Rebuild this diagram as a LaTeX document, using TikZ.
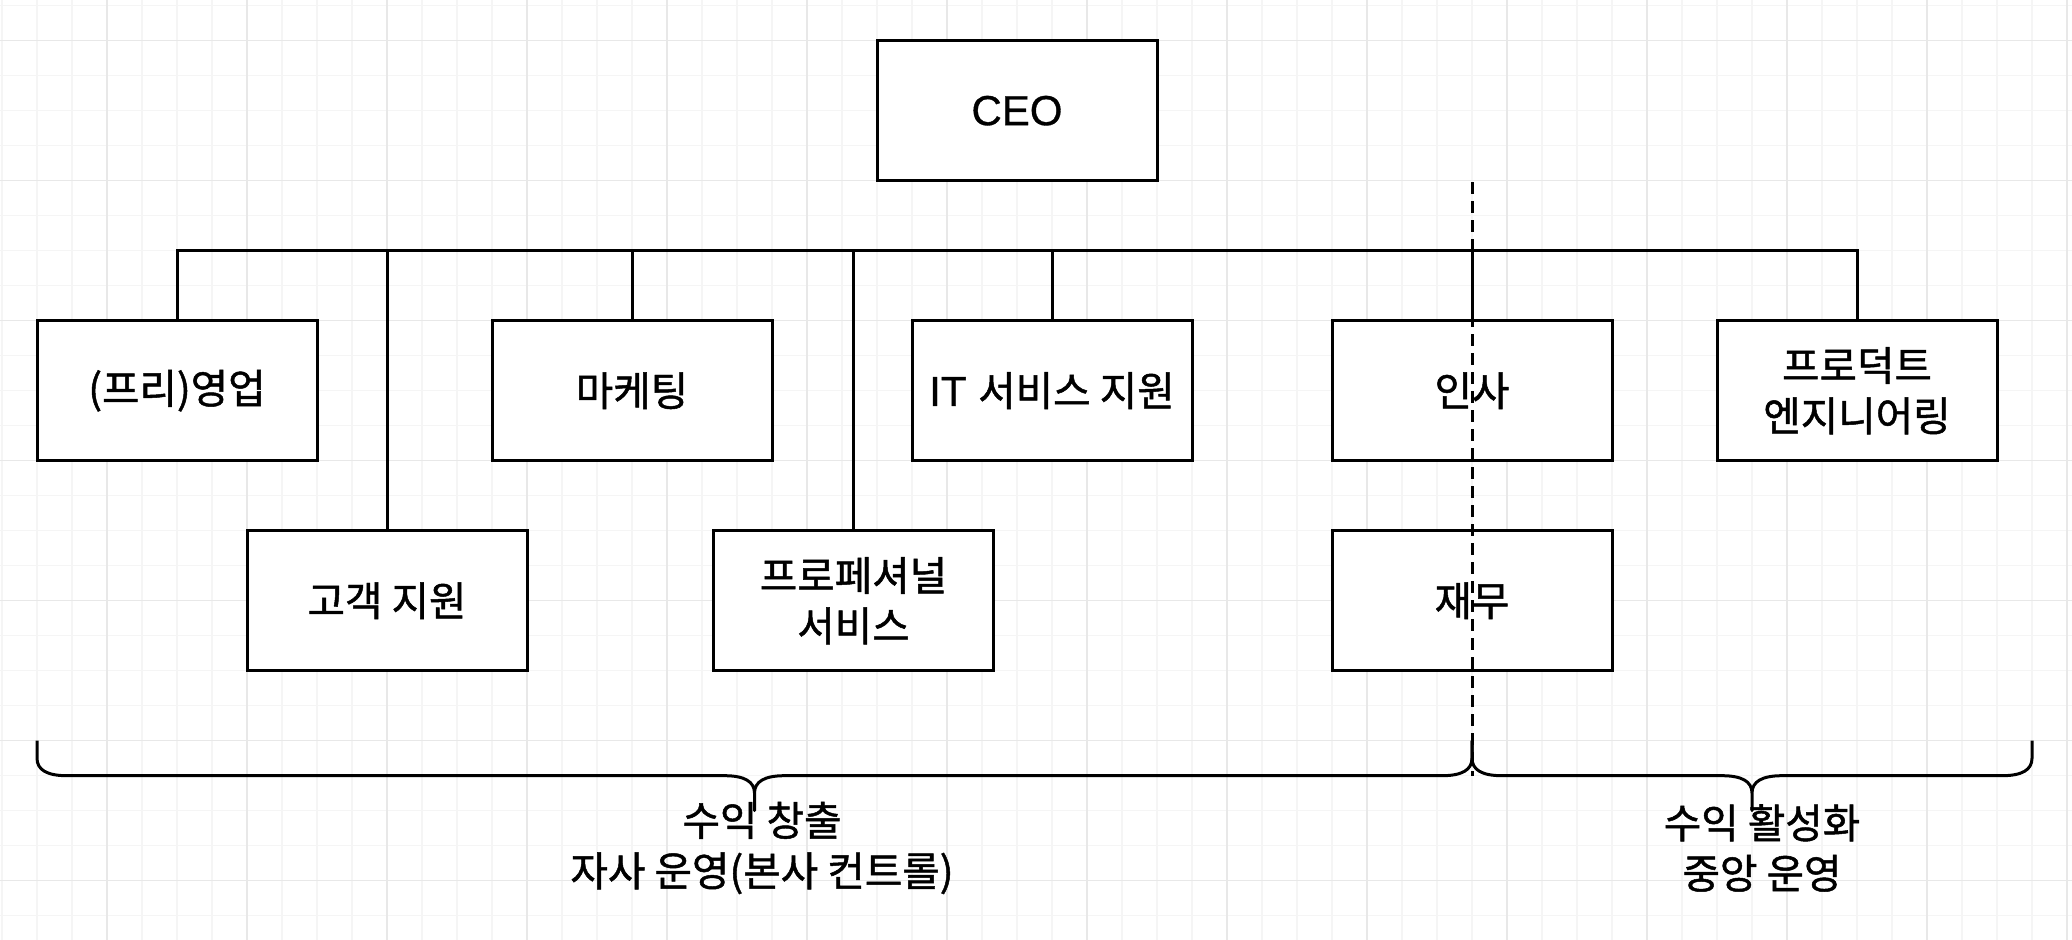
\documentclass[tikz,border=0pt]{standalone}
\usepackage{fontspec}
\setmainfont{Liberation Sans}[FakeBold=0.8]
\newfontfamily\kr{Noto Sans CJK KR}[Scale=0.97, FakeBold=1.2]
\definecolor{gridfine}{HTML}{F5F5F5}
\definecolor{gridmajor}{HTML}{E8E8E8}
\tikzset{
  orgbox/.style={draw, line width=1.5pt, fill=white, minimum width=140pt, minimum height=70pt,
    inner sep=0pt, align=center, font=\fontsize{21}{25.2}\selectfont},
  conn/.style={line width=1.5pt},
  divider/.style={line width=1.5pt, dash pattern=on 6pt off 3.5pt},
  bracepath/.style={line width=1.5pt, line join=round},
  bracelabel/.style={align=center, inner sep=0pt, font=\fontsize{21}{25.2}\selectfont\kr}
}
\begin{document}
\begin{tikzpicture}[x=0.5pt, y=-0.5pt]
\useasboundingbox (0,0) rectangle (2072,940);
\fill[white] (0,0) rectangle (2072,940);
% grid
\foreach \x in {2,37,...,2067} \draw[gridfine, line width=0.7pt] (\x,0) -- (\x,940);
\foreach \y in {5.7,40.7,...,930} \draw[gridfine, line width=0.7pt] (0,\y) -- (2072,\y);
\foreach \x in {107,247,...,2067} \draw[gridmajor, line width=0.7pt] (\x,0) -- (\x,940);
\foreach \y in {40.7,180.7,...,930} \draw[gridmajor, line width=0.7pt] (0,\y) -- (2072,\y);

% nodes
\node[orgbox] (ceo)   at (1017,110.7) {CEO};
\node[orgbox] (sales) at (177,390.7)  {\kr (프리)영업};
\node[orgbox] (cs)    at (387,600.7)  {\kr 고객 지원};
\node[orgbox] (mkt)   at (632,390.7)  {\kr 마케팅};
\node[orgbox] (pro)   at (853.5,600.7) {\kr 프로페셔널\\\kr 서비스};
\node[orgbox] (it)    at (1052,390.7) {IT {\kr 서비스 지원}};
\node[orgbox] (hr)    at (1472,390.7) {\kr 인사};
\node[orgbox] (fin)   at (1472,600.7) {\kr 재무};
\node[orgbox] (peng)  at (1857,390.7) {\kr 프로덕트\\\kr 엔지니어링};

% connectors (bus)
\coordinate (bus) at (0,250.7);
\draw[conn] (sales.north) -- (sales.north |- bus) -| (peng.north);
\draw[conn] (cs.north)  -- (cs.north |- bus);
\draw[conn] (mkt.north) -- (mkt.north |- bus);
\draw[conn] (pro.north) -- (pro.north |- bus);
\draw[conn] (it.north)  -- (it.north |- bus);
\draw[conn] (hr.north)  -- (hr.north |- bus);

% dashed divider
\coordinate (divend) at (1472,775.7);
\draw[divider] (hr.north |- ceo.south) -- (divend);

% braces
\draw[bracepath] (37,740.7) -- (37,758.2) .. controls (37,769.87) and (47,775.7) .. (67,775.7)
  -- (724.5,775.7) .. controls (744.5,775.7) and (754.5,781.53) .. (754.5,793.2)
  -- (754.5,810.7) -- (754.5,793.2)
  .. controls (754.5,781.53) and (764.5,775.7) .. (784.5,775.7)
  -- (1442,775.7) .. controls (1462,775.7) and (1472,769.87) .. (1472,758.2) -- (1472,740.7);
\draw[bracepath] (1472,740.7) -- (1472,758.2) .. controls (1472,769.87) and (1482,775.7) .. (1502,775.7)
  -- (1722,775.7) .. controls (1742,775.7) and (1752,781.53) .. (1752,793.2)
  -- (1752,810.7) -- (1752,793.2)
  .. controls (1752,781.53) and (1762,775.7) .. (1782,775.7)
  -- (2002,775.7) .. controls (2022,775.7) and (2032,769.87) .. (2032,758.2) -- (2032,740.7);

\node[bracelabel] (lblL) at (762,848) {수익 창출\\자사 운영(본사 컨트롤)};
\node[bracelabel] (lblR) at (1762,848) {수익 활성화\\중앙 운영};
\end{tikzpicture}
\end{document}
